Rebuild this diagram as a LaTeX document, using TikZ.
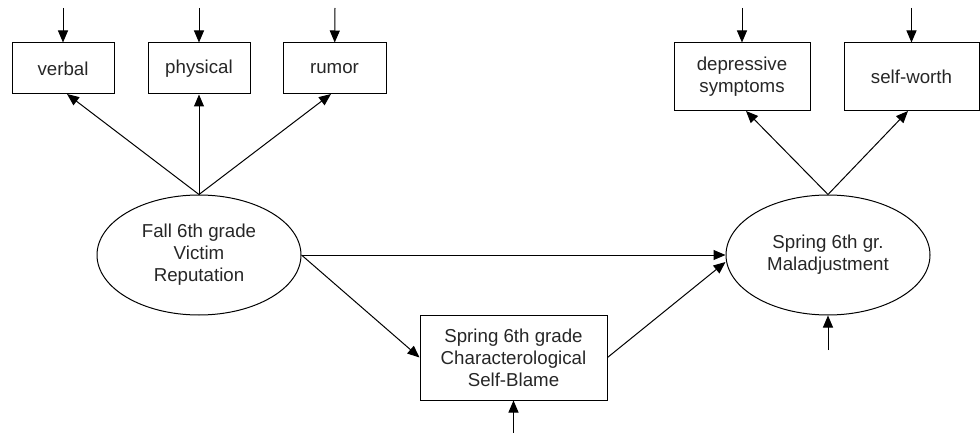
\documentclass[tikz,border=0pt]{standalone}
\usepackage{fontspec}
\setmainfont{Liberation Sans}
\usetikzlibrary{shapes.geometric,arrows.meta}
\begin{document}
\begin{tikzpicture}[x=1pt,y=-1pt,
  every node/.style={font=\fontsize{18.7}{22}\selectfont, text=black!85, align=center, inner sep=0pt},
  ind/.style={draw, line width=1pt, rectangle, minimum width=#1},
  lat/.style={draw, line width=1pt, ellipse, minimum width=204pt, minimum height=120pt},
  arr/.style={line width=1pt, -{Triangle[length=12pt,width=10pt]}}
]
\useasboundingbox (0,0) rectangle (980,433);
% indicators
\node[ind=102pt, minimum height=51pt] (verbal) at (63,68.5) {verbal};
\node[ind=102pt, minimum height=51pt] (physical) at (199,68.5) {physical};
\node[ind=103pt, minimum height=51pt] (rumor) at (334.5,68.5) {rumor};
\node[ind=136pt, minimum height=68pt] (dep) at (742,77) {depressive\\symptoms};
\node[ind=135pt, minimum height=68pt] (sw) at (911.5,77) {self-worth};
% latent
\node[lat] (fall) at (199,255) {Fall 6th grade\\Victim\\Reputation};
\node[lat] (spring) at (828,255) {Spring 6th gr.\\Maladjustment};
\node[ind=187pt, minimum height=85pt] (blame) at (513.5,357.5) {Spring 6th grade\\Characterological\\Self-Blame};
% error terms
\coordinate (e1) at (63,8);
\coordinate (e2) at (199,8);
\coordinate (e3) at (335,8);
\coordinate (e4) at (742,8);
\coordinate (e5) at (911.5,8);
\coordinate (e6) at (513.5,434);
\coordinate (e7) at (828,350);
\draw[arr] (e1) -- (verbal);
\draw[arr] (e2) -- (physical);
\draw[arr] (e3) -- (rumor);
\draw[arr] (e4) -- (dep);
\draw[arr] (e5) -- (sw);
\draw[arr] (e6) -- (blame);
\draw[arr] (e7) -- (spring);
% loadings
\draw[arr] (fall.north) -- (67,94);
\draw[arr] (fall.north) -- (physical.south);
\draw[arr] (fall.north) -- (331,94);
\draw[arr] (spring.north) -- (746,111);
\draw[arr] (spring.north) -- (908,111);
% structural
\draw[arr] (fall.east) -- (spring.west);
\draw[arr] (fall.east) -- (blame.west);
\draw[arr] (blame.east) -- (spring.west |- 0,262);
\end{tikzpicture}
\end{document}
